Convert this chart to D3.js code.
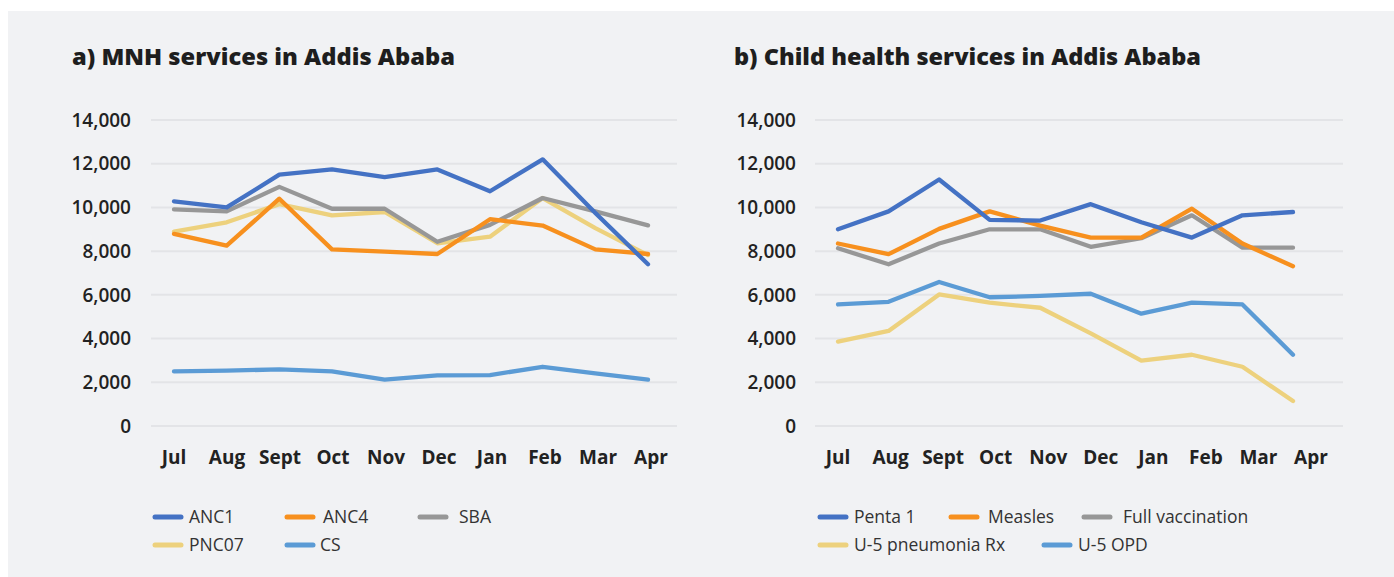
<!DOCTYPE html>
<html>
<head>
<meta charset="utf-8">
<script src="https://cdn.jsdelivr.net/npm/d3@7/dist/d3.min.js"></script>
<style>
  html, body { margin: 0; padding: 0; background: #fff; }
  svg { display: block; font-family: "Open Sans", Lato, sans-serif; }
</style>
</head>
<body>
<svg id="chart" width="1394" height="577"></svg>
<script>
// ── Data ──────────────────────────────────────────────────────────────────
const months = ['Jul', 'Aug', 'Sept', 'Oct', 'Nov', 'Dec', 'Jan', 'Feb', 'Mar', 'Apr'];
const yTicks = [0, 2000, 4000, 6000, 8000, 10000, 12000, 14000];

// a) MNH services
const anc1  = [10280, 10000, 11500, 11740, 11390, 11740, 10740, 12200, 9750, 7400];
const anc4  = [8790, 8250, 10400, 8080, 7980, 7870, 9460, 9170, 8080, 7870];
const sba   = [9910, 9820, 10940, 9940, 9940, 8430, 9200, 10430, 9820, 9180];
const pnc07 = [8890, 9320, 10150, 9640, 9790, 8360, 8660, 10430, 9050, 7820];
const cs    = [2500, 2530, 2590, 2500, 2120, 2320, 2330, 2710, 2410, 2120];

// b) Child health services
const penta1    = [9000, 9820, 11280, 9430, 9400, 10150, 9320, 8620, 9640, 9790];
const measles   = [8350, 7860, 9020, 9820, 9170, 8620, 8620, 9940, 8350, 7310];
const fullVacc  = [8130, 7400, 8350, 9000, 9000, 8200, 8590, 9640, 8160, 8160];
const pneumonia = [3860, 4350, 6020, 5640, 5410, 4240, 2990, 3260, 2710, 1140];
const opd       = [5560, 5680, 6590, 5890, 5950, 6050, 5140, 5640, 5560, 3260];

const C = {
  blue:   '#4472c4',
  orange: '#f7901e',
  gray:   '#979797',
  yellow: '#edd17d',
  light:  '#5b9bd5',
};

const svg = d3.select('#chart');

// panel background
svg.append('rect')
  .attr('x', 8).attr('y', 11).attr('width', 1386).attr('height', 566)
  .attr('fill', '#f1f2f4');

// ── One chart panel ──────────────────────────────────────────────────────
function drawPanel(cfg) {
  const g = svg.append('g');

  const y = d3.scaleLinear().domain([0, 14000]).range([426, 120]);
  const x = d3.scalePoint().domain(months).range(cfg.dataX);
  const xl = d3.scalePoint().domain(months).range(cfg.labelX);

  // title (stretched to the width of the original heavier face)
  g.append('text')
    .attr('x', cfg.titleX).attr('y', 65)
    .attr('font-size', 22).attr('font-weight', 800).attr('fill', '#1e1e1e')
    .attr('textLength', cfg.titleW).attr('lengthAdjust', 'spacingAndGlyphs')
    .text(cfg.title);

  // grid
  g.selectAll('.gl').data(yTicks).join('line')
    .attr('x1', cfg.gridX[0]).attr('x2', cfg.gridX[1])
    .attr('y1', d => y(d)).attr('y2', d => y(d))
    .attr('stroke', '#e3e4e7').attr('stroke-width', 2);

  // y labels
  g.selectAll('.yl').data(yTicks).join('text')
    .attr('x', cfg.yLabelX).attr('y', d => y(d))
    .attr('dy', '0.35em').attr('text-anchor', 'end')
    .attr('font-size', 19).attr('font-weight', 600).attr('fill', '#222')
    .text(d3.format(','));

  // x labels
  g.selectAll('.xl').data(months).join('text')
    .attr('x', d => xl(d)).attr('y', 457)
    .attr('dy', '0.35em').attr('text-anchor', 'middle')
    .attr('font-size', 19).attr('font-weight', 700).attr('fill', '#222')
    .text(d => d);

  // lines (drawn bottom-up so the first series sits on top)
  const line = d3.line().x((d, i) => x(months[i])).y(d => y(d));
  cfg.series.slice().reverse().forEach(s => {
    g.append('path').datum(s.values)
      .attr('d', line)
      .attr('fill', 'none').attr('stroke', s.color).attr('stroke-width', 4.3)
      .attr('stroke-linejoin', 'round').attr('stroke-linecap', 'round');
  });

  // legend
  cfg.series.forEach(s => {
    const lg = g.append('g');
    lg.append('line')
      .attr('x1', s.leg[0]).attr('x2', s.leg[0] + 26)
      .attr('y1', s.leg[1]).attr('y2', s.leg[1])
      .attr('stroke', s.color).attr('stroke-width', 5).attr('stroke-linecap', 'round');
    lg.append('text')
      .attr('x', s.leg[2]).attr('y', s.leg[1]).attr('dy', '0.35em')
      .attr('font-size', 17.5).attr('fill', '#333')
      .text(s.name);
  });
}

drawPanel({
  title: 'a) MNH services in Addis Ababa',
  titleX: 72,
  titleW: 383,
  gridX: [151, 677],
  dataX: [174, 648],
  labelX: [174, 651],
  yLabelX: 131,
  series: [
    { name: 'ANC1',  values: anc1,  color: C.blue,   leg: [155, 517, 189] },
    { name: 'ANC4',  values: anc4,  color: C.orange, leg: [287, 517, 323] },
    { name: 'SBA',   values: sba,   color: C.gray,   leg: [420, 517, 459] },
    { name: 'PNC07', values: pnc07, color: C.yellow, leg: [155, 545, 189] },
    { name: 'CS',    values: cs,    color: C.light,  leg: [287, 545, 320] },
  ],
});

drawPanel({
  title: 'b) Child health services in Addis Ababa',
  titleX: 734,
  titleW: 467,
  gridX: [815, 1343],
  dataX: [838, 1293],
  labelX: [838, 1311],
  yLabelX: 796,
  series: [
    { name: 'Penta 1',            values: penta1,    color: C.blue,   leg: [820, 517, 854] },
    { name: 'Measles',            values: measles,   color: C.orange, leg: [951, 517, 988] },
    { name: 'Full vaccination',   values: fullVacc,  color: C.gray,   leg: [1084, 517, 1123] },
    { name: 'U-5 pneumonia Rx',   values: pneumonia, color: C.yellow, leg: [820, 545, 854] },
    { name: 'U-5 OPD',            values: opd,       color: C.light,  leg: [1044, 545, 1078] },
  ],
});
</script>
</body>
</html>
